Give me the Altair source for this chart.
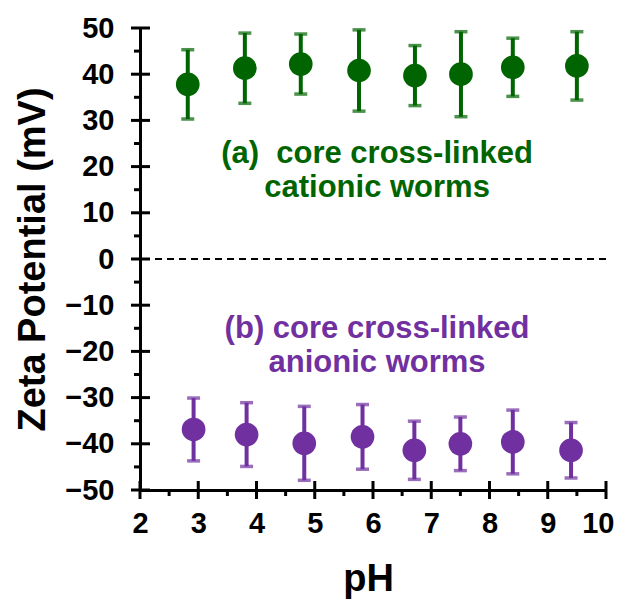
import altair as alt
import pandas as pd

# ---- data ----
ph_a = [2.82, 3.80, 4.76, 5.76, 6.72, 7.51, 8.40, 9.50]
zeta_a = [37.8, 41.3, 42.2, 40.8, 39.7, 40.0, 41.5, 41.8]
err_a = [7.5, 7.6, 6.5, 8.8, 6.5, 9.2, 6.3, 7.4]

ph_b = [2.92, 3.83, 4.82, 5.82, 6.71, 7.50, 8.40, 9.40]
zeta_b = [-36.9, -38.0, -39.9, -38.5, -41.4, -40.0, -39.6, -41.4]
err_b = [6.8, 6.9, 8.0, 7.0, 6.3, 5.8, 6.9, 6.0]

series_names = ["cationic", "anionic"]
series_colors = ["#006400", "#7030A0"]

x_major = [2, 3, 4, 5, 6, 7, 8, 9, 10]
x_minor = [2.5, 3.5, 4.5, 5.5, 6.5, 7.5, 8.5, 9.5]
y_major = [-50, -40, -30, -20, -10, 0, 10, 20, 30, 40, 50]
y_minor = [-45, -35, -25, -15, -5, 5, 15, 25, 35, 45]

notes_text = ["(a)\u00a0 core cross-linked", "cationic worms",
              "(b) core cross-linked", "anionic worms"]
notes_x = [6.07, 6.07, 6.07, 6.07]
notes_y = [22.8, 15.4, -15.2, -22.6]
notes_series = ["cationic", "cationic", "anionic", "anionic"]

W, H = 466, 462
FONT = "Liberation Sans"

rows = []
for p, z, e in zip(ph_a, zeta_a, err_a):
    rows.append({"ph": p, "zeta": z, "lo": z - e, "hi": z + e, "series": "cationic"})
for p, z, e in zip(ph_b, zeta_b, err_b):
    rows.append({"ph": p, "zeta": z, "lo": z - e, "hi": z + e, "series": "anionic"})
df = pd.DataFrame(rows)

notes = pd.DataFrame({"ph": notes_x, "zeta": notes_y, "text": notes_text,
                      "series": notes_series})

xs = alt.Scale(domain=[2, 10], nice=False, zero=False)
ys = alt.Scale(domain=[-50, 50], nice=False, zero=False)
cs = alt.Scale(domain=series_names, range=series_colors)

x_axis = alt.Axis(values=x_major, title="pH", labelPadding=19, titlePadding=22,
                  labelFlush=True, labelFlushOffset=8, titleX=228)
y_axis = alt.Axis(values=y_major, title="Zeta Potential (mV)", labelPadding=26,
                  titlePadding=12)


def X(field):
    return alt.X(field, type="quantitative", scale=xs, axis=x_axis)


def Y(field):
    return alt.Y(field, type="quantitative", scale=ys, axis=y_axis)


COLOR = alt.Color("series:N", scale=cs, legend=None)

base = alt.Chart(df)

zero_line = alt.Chart(pd.DataFrame({"zeta": [0]})).mark_rule(
    color="black", strokeWidth=2, strokeDash=[7, 5]
).encode(y=Y("zeta"))

bars = base.mark_rule(strokeWidth=4).encode(
    x=X("ph"), y=Y("lo"), y2="hi:Q", color=COLOR)
cap_lo = base.mark_tick(orient="horizontal", size=13, thickness=3.5).encode(
    x=X("ph"), y=Y("lo"), color=COLOR)
cap_hi = base.mark_tick(orient="horizontal", size=13, thickness=3.5).encode(
    x=X("ph"), y=Y("hi"), color=COLOR)
points = base.mark_circle(size=560, opacity=1).encode(
    x=X("ph"), y=Y("zeta"), color=COLOR)

text = alt.Chart(notes).mark_text(
    font=FONT, fontSize=31, fontWeight="bold", align="center", baseline="middle"
).encode(x=X("ph"), y=Y("zeta"), text="text:N", color=COLOR)

# crossing major ticks and outward minor ticks
xmaj = alt.Chart(pd.DataFrame({"ph": x_major})).mark_rule(color="black", strokeWidth=3).encode(
    x=X("ph"), y=alt.value(H - 9), y2=alt.value(H + 9))
xmin = alt.Chart(pd.DataFrame({"ph": x_minor})).mark_rule(color="black", strokeWidth=3).encode(
    x=X("ph"), y=alt.value(H), y2=alt.value(H + 6))
ymaj = alt.Chart(pd.DataFrame({"zeta": y_major})).mark_rule(color="black", strokeWidth=3).encode(
    y=Y("zeta"), x=alt.value(-9), x2=alt.value(10))
ymin = alt.Chart(pd.DataFrame({"zeta": y_minor})).mark_rule(color="black", strokeWidth=3).encode(
    y=Y("zeta"), x=alt.value(-6), x2=alt.value(0))

chart = alt.layer(
    zero_line, bars, cap_lo, cap_hi, points, text, xmaj, xmin, ymaj, ymin
).properties(
    width=W, height=H,
    autosize=alt.AutoSizeParams(type="none"),
    padding={"left": 132, "top": 20, "right": 11, "bottom": 113},
).configure_view(stroke=None).configure_axis(
    grid=False, ticks=False, domainColor="black", domainWidth=3,
    labelFont=FONT, labelFontSize=29, labelFontWeight="bold", labelColor="black",
    titleFont=FONT, titleFontSize=38, titleFontWeight="bold", titleColor="black",
    labelOverlap=False,
)

chart.save("out.html", embed_options={"renderer": "svg", "actions": False})
